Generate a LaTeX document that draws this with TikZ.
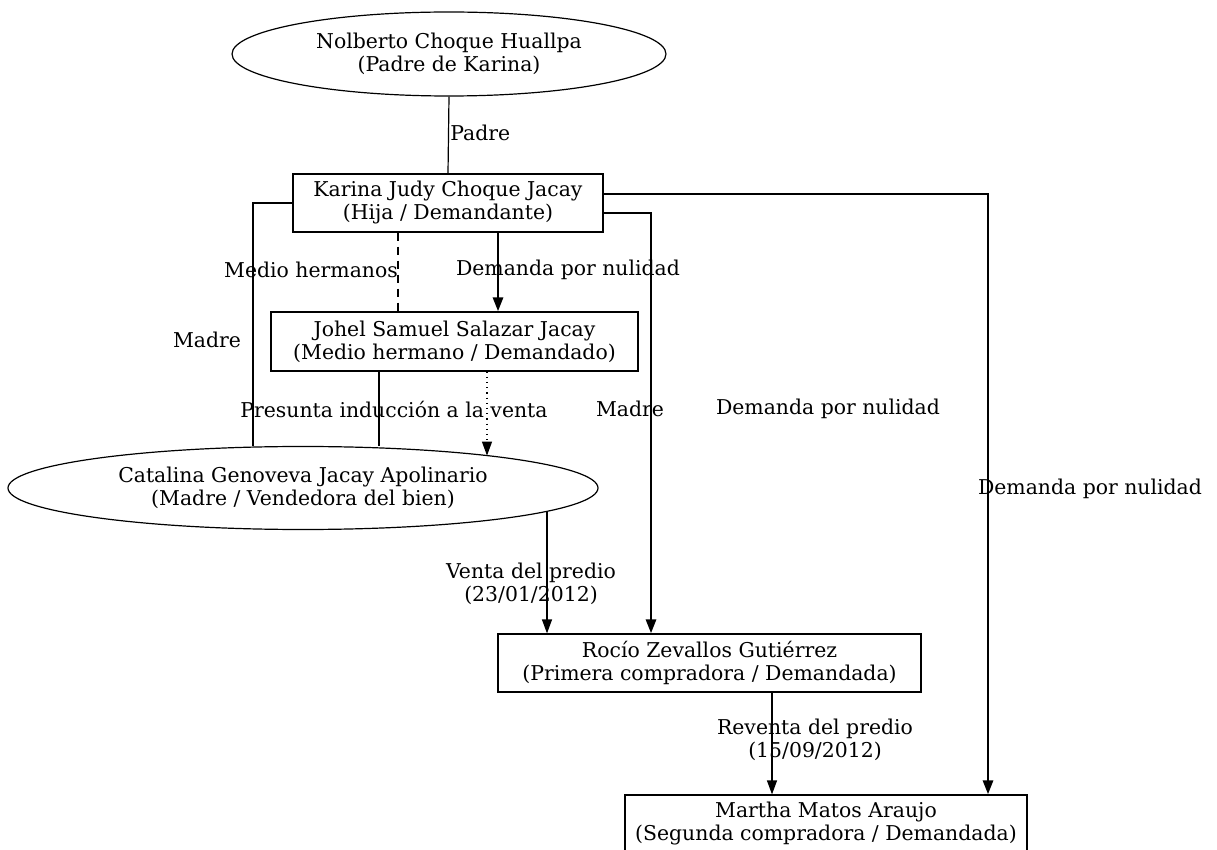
\documentclass[tikz,border=0pt]{standalone}
\usepackage{fontspec}
\setmainfont{DejaVu Serif}
\usetikzlibrary{shapes.geometric,arrows.meta}

\tikzset{
  personell/.style={draw, ellipse, inner sep=0pt, line width=0.6pt, align=center, font=\fontsize{10.2}{11.5}\selectfont},
  personbox/.style={draw, rectangle, inner sep=0pt, line width=0.6pt, align=center, font=\fontsize{10.2}{11.5}\selectfont},
  rel/.style={line width=0.6pt},
  demand/.style={line width=1.4pt, -{Triangle[length=7pt,width=5pt]}},
  tip/.style={-{Triangle[length=7pt,width=5pt]}},
  lbl/.style={inner sep=0pt, align=center, font=\fontsize{10.2}{11.5}\selectfont}
}

\begin{document}
\begin{tikzpicture}[x=0.5pt, y=-0.5pt]
        \path[use as bounding box, clip] (0,0) rectangle (1217,850);

        % Persons
        \node[personell, minimum width=217pt, minimum height=42pt] (nolberto) at (449,54) {Nolberto Choque Huallpa\\(Padre de Karina)};
        \node[personbox, minimum width=155pt, minimum height=29pt] (karina) at (448,203) {Karina Judy Choque Jacay\\(Hija / Demandante)};
        \node[personbox, minimum width=183.5pt, minimum height=29.5pt] (johel) at (454.5,341.5) {Johel Samuel Salazar Jacay\\(Medio hermano / Demandado)};
        \node[personell, minimum width=295pt, minimum height=41.5pt] (catalina) at (303,488) {Catalina Genoveva Jacay Apolinario\\(Madre / Vendedora del bien)};
        \node[personbox, minimum width=211.5pt, minimum height=29pt] (rocio) at (709.5,663) {Rocío Zevallos Gutiérrez\\(Primera compradora / Demandada)};
        \node[personbox, minimum width=201pt, minimum height=29pt] (martha) at (826,824) {Martha Matos Araujo\\(Segunda compradora / Demandada)};

        % Points on the border of Catalina
        \coordinate (induce) at ([xshift=92pt,yshift=16.2pt]catalina.center);
        \coordinate (sale) at ([xshift=122pt,yshift=-11.65pt]catalina.center);

        % Family ties
        \draw[rel] (nolberto.south) -- (karina.north);
        \draw[rel] (karina.west) -| ([xshift=-25pt]catalina.north);
        \draw[rel, dash pattern=on 4pt off 3pt] ([xshift=-25pt]karina.south) -- ([xshift=-25pt]karina.south |- johel.north);
        \draw[rel] ([xshift=-37.75pt]johel.south) -- ([xshift=-37.75pt]johel.south |- catalina.north);
        \draw[rel, dotted, tip] ([xshift=16.25pt]johel.south) -- (induce);

        % Demands
        \draw[demand] ([xshift=25pt]karina.south) -- ([xshift=25pt]karina.south |- johel.north);
        \draw[demand] ([yshift=-5pt]karina.east) -| ([xshift=-29.25pt]rocio.north);
        \draw[demand] ([yshift=4.5pt]karina.east) -| ([xshift=81pt]martha.north);

        % Sales
        \draw[rel, tip] (sale) -- (sale |- rocio.north);
        \draw[rel, tip] ([xshift=31.25pt]rocio.south) -- ([xshift=31.25pt]rocio.south |- martha.north);

        % Labels
        \node[lbl, anchor=west] (lpadre) at (450,133) {Padre};
        \node[lbl] (lmadre1) at (207,340) {Madre};
        \node[lbl] (lmedio) at (311,270) {Medio hermanos};
        \node[lbl] (ldem1) at (568,270) {Demanda por nulidad};
        \node[lbl] (lpresunta) at (394,409) {Presunta inducción a la venta};
        \node[lbl] (lmadre2) at (630,409) {Madre};
        \node[lbl] (ldem2) at (828,409) {Demanda por nulidad};
        \node[lbl] (ldem3) at (1090,489) {Demanda por nulidad};
        \node[lbl] (lventa) at (531,584) {Venta del predio\\(23/01/2012)};
        \node[lbl] (lreventa) at (815,740) {Reventa del predio\\(15/09/2012)};
\end{tikzpicture}
\end{document}
